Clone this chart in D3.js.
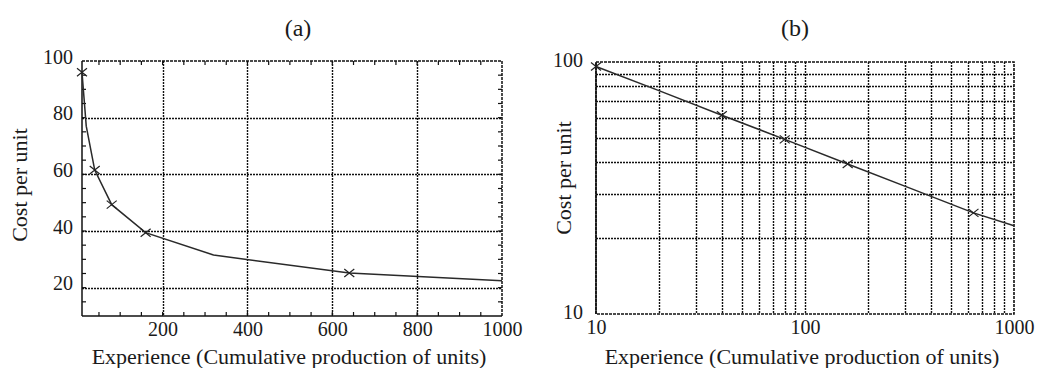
<!DOCTYPE html>
<html><head><meta charset="utf-8">
<script src="https://cdn.jsdelivr.net/npm/d3@7"></script>
<style>
html,body{margin:0;padding:0;background:#fff;}
svg{display:block;}
text{font-family:"Liberation Serif","DejaVu Serif",serif;fill:#1a1a1a;}
</style></head><body>
<svg id="c" width="1038" height="368"></svg>
<script>
// Data
const experience = [10, 20, 40, 80, 160, 320, 640, 1000];
const costPerUnit = [96, 77, 61.5, 49.3, 39.4, 31.5, 25.2, 22.4];
const markerExperience = [10, 40, 80, 160, 640];
const markerCost = [96, 61.5, 49.3, 39.4, 25.2];
const panelTitles = ["(a)", "(b)"];
const xLabel = "Experience (Cumulative production of units)";
const yLabel = "Cost per unit";
const linXTicks = [200, 400, 600, 800, 1000];
const linYTicks = [20, 40, 60, 80, 100];
const logXMajor = [10, 100, 1000];
const logYMajor = [10, 100];
const logXGrid = [20,30,40,50,60,70,80,90,100,200,300,400,500,600,700,800,900];
const logYGrid = [20,30,40,50,60,70,80,90];

const svg = d3.select("#c");
const data = experience.map((x,i)=>({x, y: costPerUnit[i]}));
const marks = markerExperience.map((x,i)=>({x, y: markerCost[i]}));
const dotStyle = "2,1";
const ink = "#111";
const TICK_FS = 20, LABEL_FS = 22, TITLE_FS = 24;

function drawCross(g, sx, sy, pts){
  const s = 5;
  g.selectAll(null).data(pts).enter().append("path")
    .attr("d", d => {
      const cx = sx(d.x), cy = sy(d.y);
      return `M${cx-s},${cy-s*0.8}L${cx+s},${cy+s*0.8}M${cx-s},${cy+s*0.8}L${cx+s},${cy-s*0.8}`;
    })
    .attr("stroke","#222").attr("stroke-width",1.2).attr("fill","none");
}
function styleAxis(a){
  a.select(".domain").remove();
  a.selectAll("text").attr("font-size",TICK_FS).attr("font-family","Liberation Serif").attr("fill","#1a1a1a");
}
function gridV(g, vals, sx, T, B){
  g.selectAll(null).data(vals).enter().append("line")
    .attr("x1",d=>Math.round(sx(d))+0.5).attr("x2",d=>Math.round(sx(d))+0.5).attr("y1",T).attr("y2",B)
    .attr("stroke",ink).attr("stroke-width",1.4).attr("stroke-dasharray",dotStyle);
}
function gridH(g, vals, sy, L, R){
  g.selectAll(null).data(vals).enter().append("line")
    .attr("y1",d=>Math.round(sy(d))+0.5).attr("y2",d=>Math.round(sy(d))+0.5).attr("x1",L).attr("x2",R)
    .attr("stroke",ink).attr("stroke-width",1.4).attr("stroke-dasharray",dotStyle);
}

// ---------- Panel (a) ----------
{
  const L=82, R=502, T=61, B=316;
  const x = d3.scaleLinear().domain([10,1000]).range([L,R]);
  const y = d3.scaleLinear().domain([10,100]).range([B,T]);
  const g = svg.append("g");
  gridV(g, linXTicks.filter(v=>v<1000), x, T, B);
  gridH(g, linYTicks.filter(v=>v<100), y, L, R);
  const xm = d3.range(50,1000,50);
  const ym = d3.range(15,100,5);
  g.selectAll(null).data(xm).enter().append("line")
    .attr("x1",d=>x(d)).attr("x2",d=>x(d)).attr("y1",B).attr("y2",B-4).attr("stroke",ink).attr("stroke-width",1.2);
  g.selectAll(null).data(xm).enter().append("line")
    .attr("x1",d=>x(d)).attr("x2",d=>x(d)).attr("y1",T).attr("y2",T+4).attr("stroke",ink).attr("stroke-width",1.2);
  g.selectAll(null).data(ym).enter().append("line")
    .attr("y1",d=>y(d)).attr("y2",d=>y(d)).attr("x1",L).attr("x2",L+4).attr("stroke",ink).attr("stroke-width",1.2);
  g.selectAll(null).data(ym).enter().append("line")
    .attr("y1",d=>y(d)).attr("y2",d=>y(d)).attr("x1",R).attr("x2",R-4).attr("stroke",ink).attr("stroke-width",1.2);
  g.append("line").attr("x1",L).attr("x2",R).attr("y1",T).attr("y2",T).attr("stroke",ink).attr("stroke-width",1.5).attr("stroke-dasharray","3,1");
  g.append("line").attr("x1",R).attr("x2",R).attr("y1",T).attr("y2",B).attr("stroke",ink).attr("stroke-width",1.5).attr("stroke-dasharray","3,1");
  g.append("line").attr("x1",L).attr("x2",L).attr("y1",T).attr("y2",B).attr("stroke",ink).attr("stroke-width",1.5);
  g.append("line").attr("x1",L).attr("x2",R).attr("y1",B).attr("y2",B).attr("stroke",ink).attr("stroke-width",1.5);
  const xa = g.append("g").attr("transform",`translate(0,${B})`)
    .call(d3.axisBottom(x).tickValues(linXTicks).tickFormat(d3.format("d")).tickSize(0).tickPadding(6));
  const ya = g.append("g").attr("transform",`translate(${L},0)`)
    .call(d3.axisLeft(y).tickValues(linYTicks).tickFormat(d3.format("d")).tickSize(0).tickPadding(9));
  styleAxis(xa); styleAxis(ya);
  xa.selectAll("text").attr("dy","0.72em");
  ya.selectAll("text").attr("dy","0.1em");
  g.append("path").datum(data)
    .attr("d", d3.line().x(d=>x(d.x)).y(d=>y(d.y)))
    .attr("fill","none").attr("stroke","#2a2a2a").attr("stroke-width",1.5);
  drawCross(g,x,y,marks);
  g.append("text").attr("x",298).attr("y",36).attr("text-anchor","middle").attr("font-size",TITLE_FS).text(panelTitles[0]);
  g.append("text").attr("x",289).attr("y",364).attr("text-anchor","middle").attr("font-size",LABEL_FS).text(xLabel);
  g.append("text").attr("transform","translate(27,185) rotate(-90)").attr("text-anchor","middle").attr("font-size",LABEL_FS).text(yLabel);
}

// ---------- Panel (b) ----------
{
  const L=596, R=1014, T=62, B=314;
  const x = d3.scaleLog().domain([10,1000]).range([L,R]);
  const y = d3.scaleLog().domain([10,100]).range([B,T]);
  const g = svg.append("g");
  gridV(g, logXGrid, x, T, B);
  gridH(g, logYGrid, y, L, R);
  g.append("rect").attr("x",L).attr("y",T).attr("width",R-L).attr("height",B-T)
    .attr("fill","none").attr("stroke",ink).attr("stroke-width",1.6).attr("stroke-dasharray","3,1");
  g.append("line").attr("x1",L).attr("x2",L).attr("y1",T).attr("y2",B).attr("stroke",ink).attr("stroke-width",1.5);
  const xa = g.append("g").attr("transform",`translate(0,${B})`)
    .call(d3.axisBottom(x).tickValues(logXMajor).tickFormat(d3.format("d")).tickSize(0).tickPadding(6));
  const ya = g.append("g").attr("transform",`translate(${L},0)`)
    .call(d3.axisLeft(y).tickValues(logYMajor).tickFormat(d3.format("d")).tickSize(0).tickPadding(13));
  styleAxis(xa); styleAxis(ya);
  xa.selectAll("text").attr("dy","0.72em");
  ya.selectAll("text").attr("dy","0.2em");
  g.append("path").datum(data)
    .attr("d", d3.line().x(d=>x(d.x)).y(d=>y(d.y)))
    .attr("fill","none").attr("stroke","#2a2a2a").attr("stroke-width",1.5);
  drawCross(g,x,y,marks);
  g.append("text").attr("x",795).attr("y",36).attr("text-anchor","middle").attr("font-size",TITLE_FS).text(panelTitles[1]);
  g.append("text").attr("x",802).attr("y",364).attr("text-anchor","middle").attr("font-size",LABEL_FS).text(xLabel);
  g.append("text").attr("transform","translate(571,178) rotate(-90)").attr("text-anchor","middle").attr("font-size",LABEL_FS).text(yLabel);
}
</script>
</body></html>
